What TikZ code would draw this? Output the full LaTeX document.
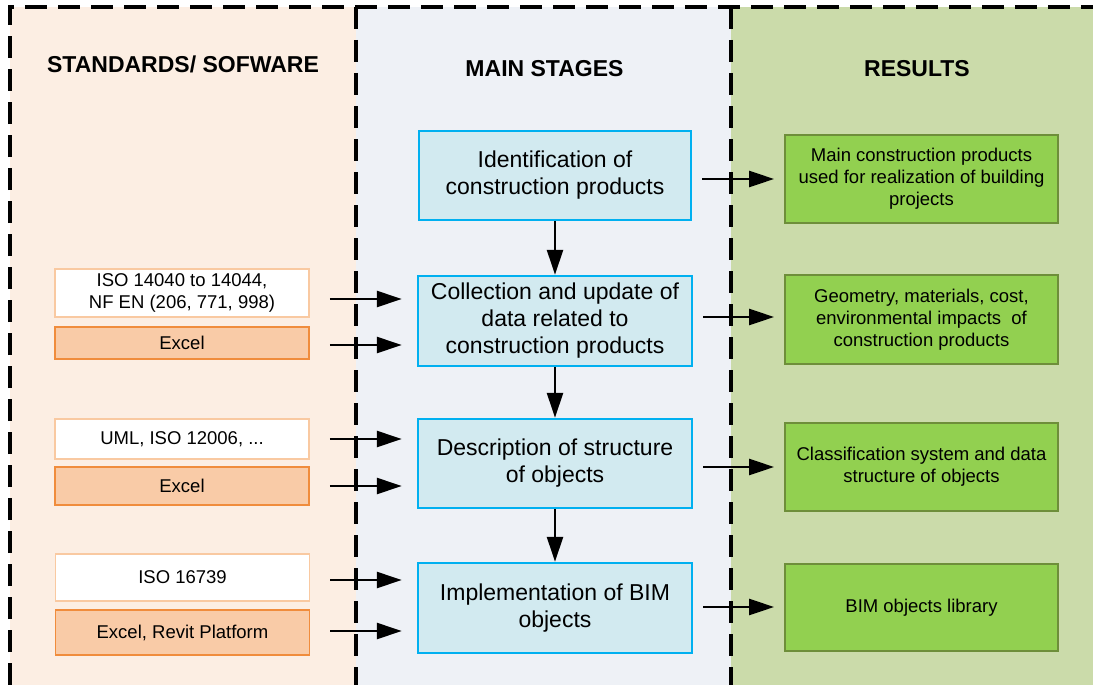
\documentclass[tikz,border=0pt]{standalone}
\usepackage{fontspec}
\setmainfont{Liberation Sans}
\usetikzlibrary{arrows.meta}
\definecolor{peachbg}{HTML}{FCEEE3}
\definecolor{midbg}{HTML}{EEF1F6}
\definecolor{resbg}{HTML}{CBDBAA}
\definecolor{stagefill}{HTML}{D2EAF0}
\definecolor{stageline}{HTML}{00B0F0}
\definecolor{resfill}{HTML}{92D050}
\definecolor{resline}{HTML}{6E8E3A}
\definecolor{stdline}{HTML}{F9C9A1}
\definecolor{swfill}{HTML}{F9CBA7}
\definecolor{swline}{HTML}{F08C3C}
\tikzset{
  panelline/.style={line width=3.1pt, dash pattern=on 22pt off 11pt},
  header/.style={font=\fontsize{23}{27}\selectfont\bfseries, anchor=base, inner sep=0pt},
  stagebox/.style={draw=stageline, fill=stagefill, line width=2.4pt, align=center,
    minimum width=274pt, minimum height=90pt, inner sep=2pt,
    font=\fontsize{23}{27}\selectfont},
  resbox/.style={draw=resline, fill=resfill, line width=1.8pt, align=center,
    minimum width=273pt, minimum height=88pt, inner sep=2pt,
    font=\fontsize{18.5}{22}\selectfont},
  stdbox/.style={draw=stdline, fill=white, line width=1.8pt, align=center,
    minimum width=254pt, inner sep=1pt,
    font=\fontsize{18.5}{21.5}\selectfont},
  swbox/.style={draw=swline, fill=swfill, line width=1.8pt, align=center,
    minimum width=254pt, inner sep=1pt,
    font=\fontsize{18.5}{21.5}\selectfont},
  arr/.style={line width=2.4pt, -{Triangle[length=25pt,width=16pt]}},
}
\begin{document}
\begin{tikzpicture}[x=1pt,y=-1pt]
\useasboundingbox (0,0) rectangle (1093,685);
% panels
\fill[peachbg] (10,7) rectangle (356,685);
\fill[midbg] (356,7) rectangle (731,685);
\fill[resbg] (731,7) rectangle (1093,685);
\draw[panelline] (10,685) -- (10,7) -- (1093,7);
\draw[panelline] (356,7) -- (356,685);
\draw[panelline] (731,7) -- (731,685);
% headers
\node[header] (h1) at (183,72.5) {STANDARDS/ SOFWARE};
\node[header] (h2) at (544.5,76.5) {MAIN STAGES};
\node[header] (h3) at (917,76.5) {RESULTS};
% main stages
\node[stagebox, minimum width=272pt, minimum height=89pt] (m1) at (555,175.5) {Identification of\\construction products};
\node[stagebox] (m2) at (555,321) {Collection and update of\\data related to\\construction products};
\node[stagebox, minimum height=89pt] (m3) at (555,463.5) {Description of structure\\of objects};
\node[stagebox] (m4) at (555,608) {Implementation of BIM\\objects};
% results
\node[resbox] (r1) at (921.5,179) {Main construction products\\used for realization of building\\projects};
\node[resbox, minimum height=89pt] (r2) at (921.5,319.5) {Geometry, materials, cost,\\environmental impacts\ \ of\\construction products};
\node[resbox] (r3) at (921.5,467) {Classification system and data\\structure of objects};
\node[resbox, minimum height=87pt] (r4) at (921.5,607.5) {BIM objects library};
% standards / software
\node[stdbox, minimum height=48pt] (s1) at (182,293) {ISO 14040 to 14044,\\NF EN (206, 771, 998)};
\node[swbox, minimum height=32pt] (s2) at (182,343) {Excel};
\node[stdbox, minimum height=40pt] (s3) at (182,439) {UML, ISO 12006, ...};
\node[swbox, minimum height=38pt] (s4) at (182,486) {Excel};
\node[stdbox, minimum height=47pt] (s5) at (182.5,577.5) {ISO 16739};
\node[swbox, minimum height=45pt] (s6) at (182.5,632.5) {Excel, Revit Platform};
% vertical arrows
\draw[arr] (m1.south) -- (m2.north);
\draw[arr] (m2.south) -- (m3.north);
\draw[arr] (m3.south) -- (m4.north);
% left arrows
\draw[arr, shorten <=20pt, shorten >=15pt] ([yshift=-6pt]s1.east) -- ([yshift=-6pt]s1.east -| m2.west);
\draw[arr, shorten <=20pt, shorten >=15pt] ([yshift=-2pt]s2.east) -- ([yshift=-2pt]s2.east -| m2.west);
\draw[arr, shorten <=20pt, shorten >=15pt] (s3.east) -- (s3.east -| m3.west);
\draw[arr, shorten <=20pt, shorten >=15pt] (s4.east) -- (s4.east -| m3.west);
\draw[arr, shorten <=20pt, shorten >=15pt] ([yshift=-2.5pt]s5.east) -- ([yshift=-2.5pt]s5.east -| m4.west);
\draw[arr, shorten <=20pt, shorten >=15pt] ([yshift=1.5pt]s6.east) -- ([yshift=1.5pt]s6.east -| m4.west);
% right arrows
\draw[arr, shorten <=10pt, shorten >=10pt] (m1.east |- r1.west) -- (r1.west);
\draw[arr, shorten <=10pt, shorten >=10pt] ([yshift=2.5pt]m2.east |- r2.west) -- ([yshift=2.5pt]r2.west);
\draw[arr, shorten <=10pt, shorten >=10pt] (m3.east |- r3.west) -- (r3.west);
\draw[arr, shorten <=10pt, shorten >=10pt] ([yshift=0.5pt]m4.east |- r4.west) -- ([yshift=0.5pt]r4.west);
\end{tikzpicture}
\end{document}
